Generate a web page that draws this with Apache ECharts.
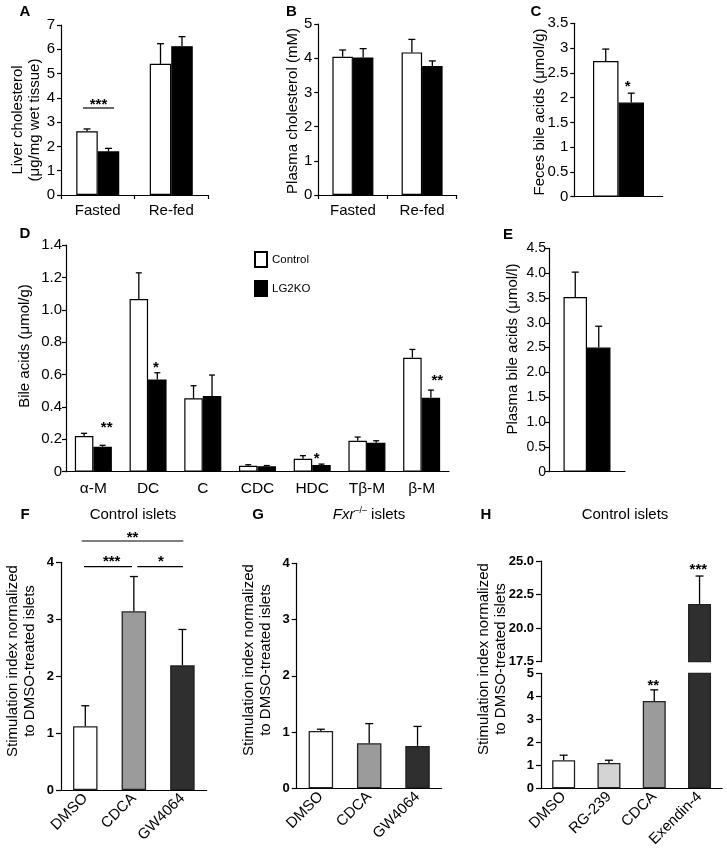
<!DOCTYPE html>
<html>
<head>
<meta charset="utf-8">
<script src="https://cdn.jsdelivr.net/npm/echarts@6/dist/echarts.min.js"></script>
<style>
html,body{margin:0;padding:0;background:#fff;}
#chart{width:727px;height:852px;}
</style>
</head>
<body>
<div id="chart"></div>
<script>
// ---------------- DATA ----------------
const abCats = ['Fasted', 'Re-fed'];
const aCtrl = [2.62, 5.40];
const aCtrlErr = [2.72, 6.23];
const aKO = [1.80, 6.13];
const aKOErr = [1.92, 6.52];

const bCtrl = [4.04, 4.17];
const bCtrlErr = [4.24, 4.55];
const bKO = [4.02, 3.77];
const bKOErr = [4.28, 3.92];

const cCats = [''];
const cCtrl = [2.74];
const cCtrlErr = [2.98];
const cKO = [1.90];
const cKOErr = [2.09];

const dCats = ['α-M', 'DC', 'C', 'CDC', 'HDC', 'Tβ-M', 'β-M'];
const dCtrl = [0.220, 1.066, 0.453, 0.037, 0.080, 0.191, 0.704];
const dCtrlErr = [0.237, 1.228, 0.531, 0.043, 0.099, 0.214, 0.755];
const dKO = [0.154, 0.570, 0.467, 0.033, 0.041, 0.179, 0.457];
const dKOErr = [0.163, 0.611, 0.597, 0.038, 0.047, 0.191, 0.504];

const eCats = [''];
const eCtrl = [3.52];
const eCtrlErr = [4.02];
const eKO = [2.50];
const eKOErr = [2.93];

const fCats = ['DMSO', 'CDCA', 'GW4064'];
const fVals = [1.12, 3.14, 2.19];
const fErr = [1.48, 3.75, 2.82];

const gCats = ['DMSO', 'CDCA', 'GW4064'];
const gVals = [1.02, 0.80, 0.75];
const gErr = [1.05, 1.15, 1.10];

const hCats = ['DMSO', 'RG-239', 'CDCA', 'Exendin-4'];
const hVals = [1.22, 1.10, 3.80, 21.8];
const hErr = [1.44, 1.22, 4.28, 23.88];

// ---------------- STYLE ----------------
const FONT = '"Liberation Sans", Arial, Helvetica, sans-serif';
const fColors = ['#ffffff', '#9b9b9b', '#2f2f2f'];
const hColors = ['#ffffff', '#d4d4d4', '#9b9b9b', '#2f2f2f'];
const HBREAK = 17.5;

const chart = echarts.init(document.getElementById('chart'), null, {renderer: 'canvas'});

function grid(l, t, w, h) {
  return {left: l, top: t, width: w, height: h, containLabel: false, outerBoundsMode: 'none'};
}
const axisLine = {show: true, lineStyle: {color: '#000', width: 1.2}};

function xCat(gi, data, opts) {
  opts = opts || {};
  return Object.assign({
    type: 'category', gridIndex: gi, data: data,
    axisLine: axisLine,
    axisTick: {show: !!opts.ticks, length: 4, lineStyle: {color: '#000', width: 1.2}},
    axisLabel: {show: data.some(d => d !== ''), color: '#000', fontFamily: FONT,
      fontSize: opts.fs || 14, margin: opts.margin || 8, rotate: opts.rotate || 0, interval: 0}
  }, opts.extra || {});
}
function yVal(gi, min, max, interval, opts) {
  opts = opts || {};
  return {
    type: 'value', gridIndex: gi, min: min, max: max, interval: interval,
    splitLine: {show: false},
    axisLine: axisLine,
    axisTick: {show: true, length: opts.tl || 4, lineStyle: {color: '#000', width: 1.2}},
    axisLabel: {color: '#000', fontFamily: FONT, fontSize: opts.fs || 14,
      fontWeight: opts.bold ? 'bold' : 'normal', margin: opts.margin || 6,
      formatter: opts.fmt || null}
  };
}

function barS(name, data, xi, w, fill, extra) {
  return Object.assign({
    type: 'bar', name: name, xAxisIndex: xi, yAxisIndex: xi, data: data,
    barWidth: w, barGap: '0%', clip: true, silent: true,
    itemStyle: {color: fill, borderColor: '#000', borderWidth: 1.2}
  }, extra || {});
}

function errS(xi, means, tops, offset, capHalf) {
  return {
    type: 'custom', xAxisIndex: xi, yAxisIndex: xi, silent: true, z: 5,
    data: means.map((m, i) => [i, m, tops[i]]),
    renderItem: function (params, api) {
      const c = api.value(0), m = api.value(1), e = api.value(2);
      const p0 = api.coord([c, m]);
      const p1 = api.coord([c, e]);
      const x = p0[0] + offset;
      const st = {stroke: '#000', lineWidth: 1.3};
      return {type: 'group', children: [
        {type: 'line', shape: {x1: x, y1: p0[1], x2: x, y2: p1[1]}, style: st},
        {type: 'line', shape: {x1: x - capHalf, y1: p1[1], x2: x + capHalf, y2: p1[1]}, style: st}
      ]};
    }
  };
}

const fmt1 = v => (v === 0 ? '0' : v.toFixed(1));

// H split data
const hUpperVals = hVals.map(v => (v > HBREAK ? v : '-'));
const hLowerIdx = hErr.map((e, i) => i).filter(i => hErr[i] <= 5);
const hUpperIdx = hVals.map((v, i) => i).filter(i => hVals[i] > HBREAK);

function errSIdx(xi, idx, means, tops, capHalf) {
  return {
    type: 'custom', xAxisIndex: xi, yAxisIndex: xi, silent: true, z: 5,
    data: idx.map(i => [i, means[i], tops[i]]),
    renderItem: function (params, api) {
      const c = api.value(0), m = api.value(1), e = api.value(2);
      const p0 = api.coord([c, m]);
      const p1 = api.coord([c, e]);
      const x = p0[0];
      const st = {stroke: '#000', lineWidth: 1.3};
      return {type: 'group', children: [
        {type: 'line', shape: {x1: x, y1: p0[1], x2: x, y2: p1[1]}, style: st},
        {type: 'line', shape: {x1: x - capHalf, y1: p1[1], x2: x + capHalf, y2: p1[1]}, style: st}
      ]};
    }
  };
}

function txt(x, y, s, opts) {
  opts = opts || {};
  return {
    type: 'text', x: x, y: y, rotation: opts.rot || 0, silent: true,
    style: Object.assign({
      text: s, fill: '#000', fontFamily: FONT, fontSize: opts.fs || 15,
      fontWeight: opts.bold ? 'bold' : 'normal', align: 'center', verticalAlign: 'middle',
      lineHeight: opts.lh || 17
    }, opts.style || {})
  };
}
function star(x, y, s) {
  return txt(x, y + 4.5, s, {fs: 15, bold: true});
}
function ln(x1, y1, x2, y2) {
  return {type: 'line', silent: true, shape: {x1: x1, y1: y1, x2: x2, y2: y2}, style: {stroke: '#000', lineWidth: 1.2}};
}
const R = Math.PI / 2;

const option = {
  animation: false,
  backgroundColor: '#fff',
  textStyle: {fontFamily: FONT},
  legend: {
    data: ['Control', 'LG2KO'], left: 249, top: 246, orient: 'vertical', icon: 'rect',
    itemWidth: 12, itemHeight: 15, itemGap: 12, selectedMode: false,
    textStyle: {fontSize: 11.5, color: '#000', fontFamily: FONT}
  },
  grid: [
    grid(61, 25, 147, 170),        // A
    grid(318.3, 24, 138.4, 171),   // B
    grid(574.3, 23.3, 88.4, 173.4),// C
    grid(66, 245, 383, 226.7),     // D
    grid(549, 248.3, 76, 223.4),   // E
    grid(61, 562.3, 145.7, 227.7), // F
    grid(296.7, 563.3, 145, 225),  // G
    grid(541, 561, 181.2, 100.7),  // H upper
    grid(541, 673.3, 181.2, 115)   // H lower
  ],
  xAxis: [
    xCat(0, abCats, {ticks: true, fs: 15, margin: 8}),
    xCat(1, abCats, {ticks: true, fs: 15, margin: 8}),
    xCat(2, cCats, {}),
    xCat(3, dCats, {fs: 15.5, margin: 9}),
    xCat(4, eCats, {}),
    xCat(5, fCats, {fs: 15, rotate: 45, margin: 6}),
    xCat(6, gCats, {fs: 15, rotate: 45, margin: 6}),
    xCat(7, hCats, {extra: {show: false}}),
    xCat(8, hCats, {fs: 15, rotate: 45, margin: 6})
  ],
  yAxis: [
    yVal(0, 0, 7, 1, {fs: 15}),
    yVal(1, 0, 5, 1, {fs: 15}),
    yVal(2, 0, 3.5, 0.5, {fs: 15}),
    yVal(3, 0, 1.4, 0.2, {fs: 15, fmt: fmt1, margin: 4}),
    yVal(4, 0, 4.5, 0.5, {fs: 14, fmt: fmt1, margin: 3}),
    yVal(5, 0, 4, 1, {fs: 13, bold: true, tl: 5, margin: 7}),
    yVal(6, 0, 4, 1, {fs: 13, bold: true, tl: 5, margin: 7}),
    yVal(7, 17.5, 25, 2.5, {fs: 13, bold: true, tl: 5, margin: 7, fmt: v => v.toFixed(1)}),
    yVal(8, 0, 5, 1, {fs: 13, bold: true, tl: 5, margin: 7})
  ],
  series: [
    // A
    barS('Control', aCtrl, 0, 21.5, '#fff'),
    barS('LG2KO', aKO, 0, 21.5, '#000'),
    errS(0, aCtrl, aCtrlErr, -10.75, 3.5),
    errS(0, aKO, aKOErr, 10.75, 3.5),
    // B
    barS('Control', bCtrl, 1, 20.5, '#fff'),
    barS('LG2KO', bKO, 1, 20.5, '#000'),
    errS(1, bCtrl, bCtrlErr, -10.25, 3.5),
    errS(1, bKO, bKOErr, 10.25, 3.5),
    // C
    barS('Control', cCtrl, 2, 25.5, '#fff'),
    barS('LG2KO', cKO, 2, 25.5, '#000'),
    errS(2, cCtrl, cCtrlErr, -12.75, 3.5),
    errS(2, cKO, cKOErr, 12.75, 3.5),
    // D
    barS('Control', dCtrl, 3, 18.5, '#fff'),
    barS('LG2KO', dKO, 3, 18.5, '#000'),
    errS(3, dCtrl, dCtrlErr, -9.25, 3),
    errS(3, dKO, dKOErr, 9.25, 3),
    // E
    barS('Control', eCtrl, 4, 23.5, '#fff'),
    barS('LG2KO', eKO, 4, 23.5, '#000'),
    errS(4, eCtrl, eCtrlErr, -11.75, 3.5),
    errS(4, eKO, eKOErr, 11.75, 3.5),
    // F
    barS('F', fVals, 5, 24.5, null, {itemStyle: {color: p => fColors[p.dataIndex], borderColor: '#222', borderWidth: 1.3}}),
    errS(5, fVals, fErr, 0, 4),
    // G
    barS('G', gVals, 6, 24.5, null, {itemStyle: {color: p => fColors[p.dataIndex], borderColor: '#222', borderWidth: 1.3}}),
    errS(6, gVals, gErr, 0, 4),
    // H upper
    barS('Hu', hUpperVals, 7, 23, null, {itemStyle: {color: p => hColors[p.dataIndex], borderColor: '#222', borderWidth: 1.3}}),
    errSIdx(7, hUpperIdx, hVals, hErr, 4),
    // H lower
    barS('Hl', hVals, 8, 23, null, {itemStyle: {color: p => hColors[p.dataIndex], borderColor: '#222', borderWidth: 1.3}}),
    errSIdx(8, hLowerIdx, hVals, hErr, 4)
  ],
  graphic: {elements: [
    // panel letters
    txt(25, 12, 'A', {bold: true, fs: 15}),
    txt(291.5, 12, 'B', {bold: true, fs: 15}),
    txt(536, 12, 'C', {bold: true, fs: 15}),
    txt(25, 234, 'D', {bold: true, fs: 15}),
    txt(508, 235, 'E', {bold: true, fs: 15}),
    txt(25, 515, 'F', {bold: true, fs: 15}),
    txt(258, 515, 'G', {bold: true, fs: 15}),
    txt(486, 515, 'H', {bold: true, fs: 15}),
    // titles
    txt(133, 515, 'Control islets'),
    {type: 'text', x: 369, y: 515, silent: true, style: {
      text: '{i|Fxr}{s|–/–}{n| islets}', align: 'center', verticalAlign: 'middle', fill: '#000',
      fontFamily: FONT,
      rich: {
        i: {fontStyle: 'italic', fontSize: 15, fontFamily: FONT, lineHeight: 18},
        s: {fontSize: 9, fontFamily: FONT, verticalAlign: 'top', lineHeight: 18},
        n: {fontSize: 15, fontFamily: FONT, lineHeight: 18}
      }}},
    txt(625, 515, 'Control islets'),
    // y-axis names
    txt(26.5, 120, 'Liver cholesterol\n(μg/mg wet tissue)', {rot: R}),
    txt(293, 111, 'Plasma cholesterol (mM)', {rot: R}),
    txt(540, 112, 'Feces bile acids (μmol/g)', {rot: R}),
    txt(25, 346, 'Bile acids (μmol/g)', {rot: R}),
    txt(513, 349, 'Plasma bile acids (μmol/l)', {rot: R}),
    txt(21, 661, 'Stimulation index normalized\nto DMSO-treated islets', {rot: R}),
    txt(257, 660, 'Stimulation index normalized\nto DMSO-treated islets', {rot: R}),
    txt(492, 659, 'Stimulation index normalized\nto DMSO-treated islets', {rot: R}),
    // significance
    ln(83, 108, 114, 108), star(98.5, 100, '***'),
    star(627.7, 82, '*'),
    star(106.7, 423.3, '**'),
    star(156, 363.3, '*'),
    star(316.7, 454.3, '*'),
    star(437.3, 376.7, '**'),
    ln(81.7, 541, 183.3, 541), star(132.5, 533, '**'),
    ln(84, 566.7, 132, 566.7), star(111.7, 557.3, '***'),
    ln(137.3, 566.7, 183, 566.7), star(161, 557.3, '*'),
    star(653.3, 681.7, '**'),
    star(698.3, 565.7, '***')
  ]}
};
chart.setOption(option);
</script>
</body>
</html>
